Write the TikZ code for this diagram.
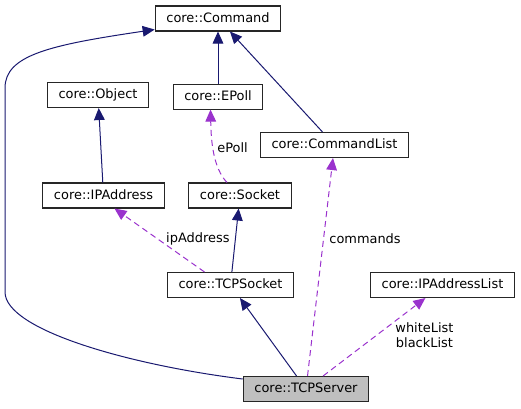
\documentclass[tikz,border=0pt]{standalone}
\usepackage{fontspec}
\setmainfont{DejaVu Sans}
\usepackage{tikz}
\usetikzlibrary{arrows.meta, positioning}
\definecolor{inherit}{HTML}{191970}
\definecolor{usage}{HTML}{9A32CD}
\definecolor{current}{HTML}{BFBFBF}
\tikzset{
    cls/.style={draw=black!85, line width=0.8pt, fill=white, minimum height=18.75pt,
      inner xsep=8.4pt, inner ysep=0pt, text height=0.75em, text depth=0.22em},
    base/.style={draw=inherit, line width=0.75pt, -{Triangle[length=9pt, width=8pt]}},
    uses/.style={draw=usage, line width=0.75pt, dash pattern=on 4.5pt off 3pt,
      -{Triangle[length=9pt, width=8pt]}},
    role/.style={font=\fontsize{9.7}{11.2}\selectfont, align=center, inner sep=2pt},
}
\begin{document}
\begin{tikzpicture}[x=0.75pt, y=-0.75pt, font=\fontsize{9.7}{11.2}\selectfont]
    \useasboundingbox (0,0) rectangle (521,408);

    \node[cls] (cmd) at (218,18.5) {core::Command};
    \node[cls, below=39pt of cmd] (epoll) {core::EPoll};
    \node[cls] (obj) at (98,95) {core::Object};
    \node[cls] (cmdlist) at (334.5,145) {core::CommandList};
    \node[cls] (ipaddr) at (103.5,195.5) {core::IPAddress};
    \node[cls] (sock) at (240,195.5) {core::Socket};
    \node[cls] (tcpsock) at (230.5,285) {core::TCPSocket};
    \node[cls] (iplist) at (442.5,285) {core::IPAddressList};
    \node[cls, fill=current] (srv) at (306,389) {core::TCPServer};

    \draw[base] (epoll) -- (cmd);
    \draw[base] (cmdlist) -- (cmd);
    \draw[base] (ipaddr) -- (obj);
    \draw[base] (tcpsock) -- (sock);
    \draw[base] (srv) -- (tcpsock);
    \draw[base] ([yshift=7.5pt]srv.west) .. controls (130,365) and (5,330) .. (5,292)
      -- (5,88) .. controls (5,55) and (50,45) .. ([yshift=1.5pt]cmd.south west);

    \draw[uses] ([xshift=-9.75pt]sock.north) .. controls (213,168) and (211,140)
      .. node[role, pos=0.56, right=1pt] {ePoll} ([xshift=-5.6pt]epoll.south);
    \draw[uses] ([xshift=-19.5pt]tcpsock.north) -- node[role, pos=0.52, right=4pt] {ipAddress}
      ([xshift=8.25pt]ipaddr.south);
    \draw[uses] (srv) -- node[role, pos=0.63, right=2pt] {commands} (cmdlist);
    \draw[uses] (srv) -- node[role, pos=0.52, right=12pt] {whiteList\\blackList} (iplist);
\end{tikzpicture}
\end{document}
